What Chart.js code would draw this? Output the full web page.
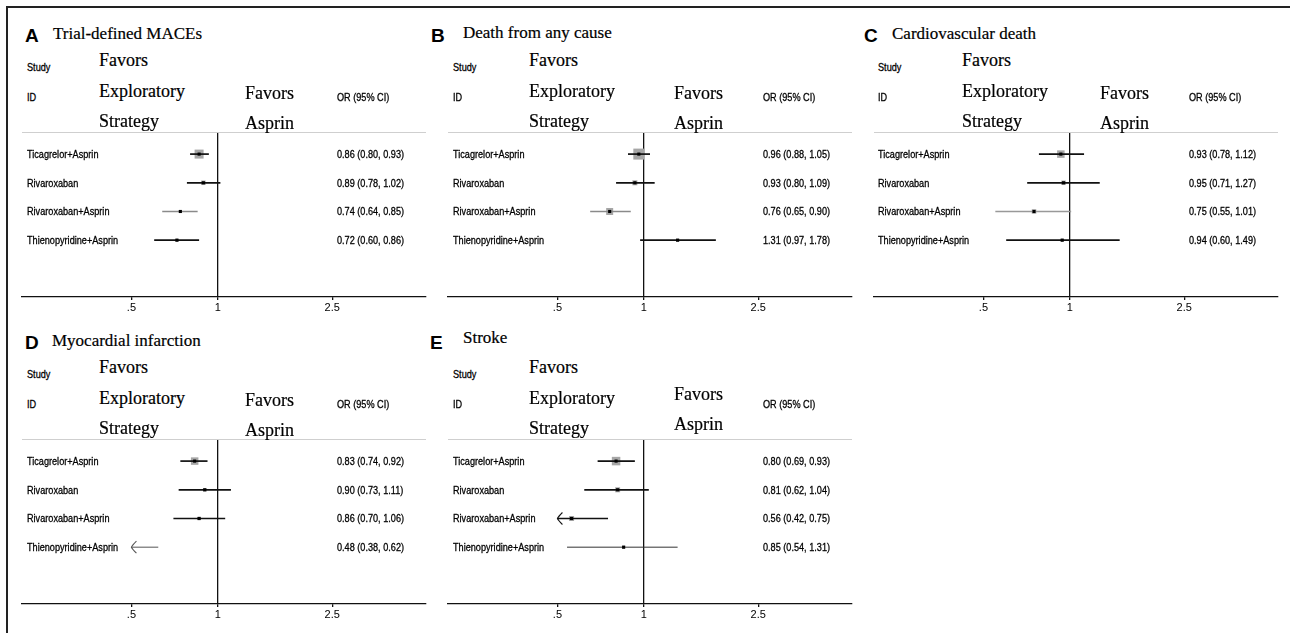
<!DOCTYPE html>
<html>
<head>
<meta charset="utf-8">
<script src="https://cdn.jsdelivr.net/npm/chart.js@4.4.1/dist/chart.umd.min.js"></script>
<style>
html,body{margin:0;padding:0;background:#fff;}
#wrap{position:relative;width:1290px;height:633px;overflow:hidden;background:#fff;}
#frameL{position:absolute;left:6px;top:6px;width:2px;height:640px;background:#222;}
#frameT{position:absolute;left:6px;top:6px;width:1300px;height:2px;background:#222;}
.t{position:absolute;white-space:nowrap;line-height:1;transform:translateY(-50%);color:#111;}
.sans{font-family:"Liberation Sans",Arial,Helvetica,sans-serif;font-size:11px;color:#000;-webkit-text-stroke:0.3px #000;}
.cond{display:inline-block;transform:scaleX(0.83);transform-origin:0 50%;}
.serif{font-family:"Liberation Serif","Times New Roman",serif;font-size:18px;color:#000;-webkit-text-stroke:0.2px #000;}
.title{font-family:"Liberation Serif","Times New Roman",serif;font-size:17px;color:#000;-webkit-text-stroke:0.2px #000;}
.letter{font-family:"Liberation Sans",Arial,sans-serif;font-size:19px;font-weight:bold;color:#000;}
canvas{position:absolute;}
</style>
</head>
<body>
<div id="wrap"><div id="frameL"></div><div id="frameT"></div></div>
<script>
// ---------------- DATA ----------------
const studies = ["Ticagrelor+Asprin", "Rivaroxaban", "Rivaroxaban+Asprin", "Thienopyridine+Asprin"];
const panelLetters = ["A", "B", "C", "D", "E"];
const panelTitles = ["Trial-defined MACEs", "Death from any cause", "Cardiovascular death", "Myocardial infarction", "Stroke"];

const orMACE = [0.86, 0.89, 0.74, 0.72];
const loMACE = [0.80, 0.78, 0.64, 0.60];
const hiMACE = [0.93, 1.02, 0.85, 0.86];

const orDeath = [0.96, 0.93, 0.76, 1.31];
const loDeath = [0.88, 0.80, 0.65, 0.97];
const hiDeath = [1.05, 1.09, 0.90, 1.78];

const orCVD = [0.93, 0.95, 0.75, 0.94];
const loCVD = [0.78, 0.71, 0.55, 0.60];
const hiCVD = [1.12, 1.27, 1.01, 1.49];

const orMI = [0.83, 0.90, 0.86, 0.48];
const loMI = [0.74, 0.73, 0.70, 0.38];
const hiMI = [0.92, 1.11, 1.06, 0.62];

const orStroke = [0.80, 0.81, 0.56, 0.85];
const loStroke = [0.69, 0.62, 0.42, 0.54];
const hiStroke = [0.93, 1.04, 0.75, 1.31];

// study weight boxes (estimated box side)
const wMACE = [9, 4.5, 3, 3];
const wDeath = [11, 5, 7, 3];
const wCVD = [7.5, 4.5, 4.5, 3];
const wMI = [7.5, 3.5, 3.5, 0];
const wStroke = [8.5, 5, 5, 3];

const xTicks = [0.5, 1, 2.5];
const xTickLabels = [".5", "1", "2.5"];

const headerStudy = ["Study", "ID"];
const headerFavorLeft = ["Favors", "Exploratory", "Strategy"];
const headerFavorRight = ["Favors", "Asprin"];
const headerOR = "OR (95% CI)";

// ---------------- STYLE / LAYOUT ----------------
const clipLo = xTicks[0], clipHi = xTicks[xTicks.length - 1];
const axisMin = 0.208, axisMax = 5.3;
const panels = [
  {or: orMACE, lo: loMACE, hi: hiMACE, w: wMACE, colors: ['#111','#111','#8a8a8a','#111'], widths: [1.7,1.7,1.7,1.7],
   dx: 0, dy: 0, letterX: 25, titleX: 53, studyX: 27, favLX: 99, favRX: 245, orX: 337, favRShift: 0, titleShift: 0},
  {or: orDeath, lo: loDeath, hi: hiDeath, w: wDeath, colors: ['#111','#111','#8a8a8a','#111'], widths: [1.7,1.7,1.7,1.7],
   dx: 426, dy: 0, letterX: 431, titleX: 463, studyX: 453, favLX: 529, favRX: 674, orX: 763, favRShift: 0, titleShift: -1},
  {or: orCVD, lo: loCVD, hi: hiCVD, w: wCVD, colors: ['#111','#111','#999','#111'], widths: [1.7,1.7,1.7,1.7],
   dx: 852, dy: 0, letterX: 864, titleX: 892, studyX: 878, favLX: 962, favRX: 1100, orX: 1189, favRShift: 0, titleShift: 0},
  {or: orMI, lo: loMI, hi: hiMI, w: wMI, colors: ['#111','#111','#111','#555'], widths: [1.7,1.7,1.7,1],
   dx: 0, dy: 307, letterX: 25, titleX: 52, studyX: 27, favLX: 99, favRX: 245, orX: 337, favRShift: 0, titleShift: 0},
  {or: orStroke, lo: loStroke, hi: hiStroke, w: wStroke, colors: ['#111','#111','#111','#333'], widths: [1.7,1.7,1.7,1],
   dx: 426, dy: 307, letterX: 430, titleX: 463, studyX: 453, favLX: 529, favRX: 674, orX: 763, favRShift: -6.5, titleShift: -3}
];

const wrap = document.getElementById('wrap');
function addText(x, y, txt, cls, cond) {
  const s = document.createElement('span');
  s.className = 't ' + cls;
  s.style.left = x + 'px';
  s.style.top = y + 'px';
  if (cond) {
    const inner = document.createElement('span');
    inner.className = 'cond';
    inner.textContent = txt;
    s.appendChild(inner);
  } else {
    s.textContent = txt;
  }
  wrap.appendChild(s);
  return s;
}
const fmt = v => v.toFixed(2);

const sepPlugin = {
  id: 'sep',
  beforeDatasetsDraw(chart) {
    const {ctx, chartArea: a} = chart;
    ctx.save();
    ctx.strokeStyle = '#cfcfcf';
    ctx.lineWidth = 1;
    ctx.beginPath();
    ctx.moveTo(a.left, a.top + 0.5);
    ctx.lineTo(a.right, a.top + 0.5);
    ctx.stroke();
    ctx.restore();
  }
};
const arrowPlugin = {
  id: 'arrows',
  afterDatasetsDraw(chart) {
    const p = chart.config.options.plugins.arrows;
    if (!p) return;
    const xs = chart.scales.x, ys = chart.scales.y, ctx = chart.ctx;
    p.lo.forEach((lo, i) => {
      if (lo >= clipLo) return;
      const x0 = xs.getPixelForValue(clipLo), y = ys.getPixelForValue(i + 1);
      ctx.save();
      ctx.strokeStyle = p.colors[i];
      ctx.lineWidth = 1.1;
      ctx.beginPath();
      ctx.moveTo(x0 + 5, y - 6);
      ctx.quadraticCurveTo(x0 + 1, y - 2, x0, y);
      ctx.quadraticCurveTo(x0 + 1, y + 2, x0 + 5, y + 6);
      ctx.stroke();
      ctx.restore();
    });
  }
};

panels.forEach((p, k) => {
  const cv = document.createElement('canvas');
  cv.width = 424; cv.height = 200;
  cv.style.left = (12 + p.dx) + 'px';
  cv.style.top = (122 + p.dy) + 'px';
  wrap.appendChild(cv);

  const rows = studies.map((s, i) => ({i, or: p.or[i], lo: p.lo[i], hi: p.hi[i], w: p.w[i]}));
  const inRange = rows.filter(r => r.or >= clipLo && r.or <= clipHi);
  const datasets = [];
  datasets.push({
    type: 'scatter', order: 0,
    data: inRange.map(r => ({x: r.or, y: r.i + 1})),
    pointStyle: 'rect', pointRadius: 2.2, pointHoverRadius: 2.2,
    backgroundColor: '#000', borderWidth: 0
  });
  rows.forEach(r => {
    datasets.push({
      type: 'line', order: 1,
      data: [{x: Math.max(r.lo, clipLo), y: r.i + 1}, {x: Math.min(r.hi, clipHi), y: r.i + 1}],
      borderColor: p.colors[r.i], borderWidth: p.widths[r.i], pointRadius: 0, tension: 0,
      borderCapStyle: 'butt', fill: false
    });
  });
  datasets.push({
    type: 'scatter', order: 2,
    data: inRange.filter(r => r.w > 0).map(r => ({x: r.or, y: r.i + 1, s: r.w})),
    pointStyle: 'rect',
    pointRadius: c => (c.raw ? c.raw.s / Math.SQRT2 : 0),
    pointHoverRadius: c => (c.raw ? c.raw.s / Math.SQRT2 : 0),
    backgroundColor: '#a6a6a6', borderWidth: 0
  });

  const chart = new Chart(cv, {
    type: 'scatter',
    data: {datasets},
    plugins: [sepPlugin, arrowPlugin],
    options: {
      responsive: false, animation: false, events: [],
      layout: {padding: {left: 10, right: 10, top: 10, bottom: 0}},
      plugins: {legend: {display: false}, tooltip: {enabled: false},
        arrows: {lo: p.lo, colors: p.colors}},
      scales: {
        x: {
          type: 'logarithmic', min: axisMin, max: axisMax, bounds: 'data', position: 'bottom',
          afterBuildTicks: s => { s.ticks = xTicks.map(v => ({value: v})); },
          afterFit: s => { s.height = 25; },
          ticks: {
            autoSkip: false, maxRotation: 0, padding: 1, color: '#000',
            font: {family: '"Liberation Sans Narrow","Liberation Sans",Arial,sans-serif', size: 11},
            callback: (v) => { const i = xTicks.indexOf(v); return i >= 0 ? xTickLabels[i] : ''; }
          },
          grid: {
            drawOnChartArea: true, drawTicks: true, tickLength: 3, lineWidth: 1.3,
            color: c => (c.tick && c.tick.value === 1) ? '#111' : 'rgba(0,0,0,0)',
            tickColor: '#111'
          },
          border: {display: true, color: '#111', width: 1.3}
        },
        y: {type: 'linear', min: 0.23, max: 5.98, reverse: true, display: false}
      }
    }
  });

  const top = 122 + p.dy;
  const ys = chart.scales.y;
  addText(p.letterX, 35 + p.dy, panelLetters[k], 'letter', false);
  addText(p.titleX, 32.5 + p.dy + p.titleShift, panelTitles[k], 'title', false);
  addText(p.studyX, 66.5 + p.dy, headerStudy[0], 'sans', true);
  addText(p.studyX, 96.5 + p.dy, headerStudy[1], 'sans', true);
  addText(p.favLX, 60 + p.dy, headerFavorLeft[0], 'serif', false);
  addText(p.favLX, 90.5 + p.dy, headerFavorLeft[1], 'serif', false);
  addText(p.favLX, 120.5 + p.dy, headerFavorLeft[2], 'serif', false);
  addText(p.favRX, 93.3 + p.dy + p.favRShift, headerFavorRight[0], 'serif', false);
  addText(p.favRX, 123.3 + p.dy + p.favRShift, headerFavorRight[1], 'serif', false);
  addText(p.orX, 97 + p.dy, headerOR, 'sans', true);
  rows.forEach(r => {
    const y = top + ys.getPixelForValue(r.i + 1);
    addText(p.studyX, y, studies[r.i], 'sans', true);
    addText(p.orX, y, fmt(r.or) + ' (' + fmt(r.lo) + ', ' + fmt(r.hi) + ')', 'sans', true);
  });
});
</script>
</body>
</html>
